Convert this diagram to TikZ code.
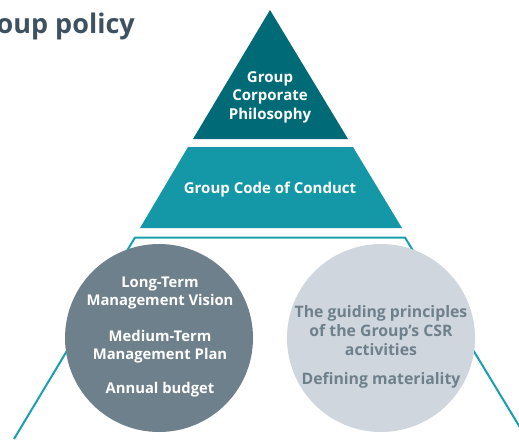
\documentclass[tikz,border=0pt]{standalone}
\usepackage{fontspec}
\setmainfont{Open Sans}
\definecolor{darkteal}{HTML}{006B76}
\definecolor{midteal}{HTML}{1497A7}
\definecolor{lineteal}{HTML}{19A0AD}
\definecolor{slate}{HTML}{6E808B}
\definecolor{pale}{HTML}{D0D6DD}
\definecolor{titlecol}{HTML}{3E5160}
\begin{document}
\begin{tikzpicture}[x=1pt,y=-1pt,
  lbl/.style={font=\bfseries\fontsize{15}{18.5}\selectfont, align=center, inner sep=0pt},
  lbldark/.style={lbl, font=\bfseries\fontsize{14.8}{18}\selectfont},
  lbllight/.style={lbl, font=\bfseries\fontsize{15.8}{19}\selectfont},
  circ/.style={circle, minimum size=188pt, inner sep=0pt}]
\useasboundingbox (0,0) rectangle (519,439);
\begin{scope}
\clip (0,0) rectangle (519,439);
% title
\node[anchor=base east, inner sep=0pt, text=titlecol, font=\bfseries\fontsize{27}{29}\selectfont] (title) at (135,33) {Group policy};
% outline trapezoid
\draw[lineteal, line width=2pt] (14,439) -- (135,237.5) -- (405,237.5) -- (527,439);
% top triangle
\fill[darkteal] (270,10) -- (348,139) -- (193,139) -- cycle;
% code of conduct band
\fill[midteal] (188,147) -- (353,147) -- (402,228) -- (140,228) -- cycle;
% circles
\node[circ, fill=slate] (c1) at (159,338) {};
\node[circ, fill=pale] (c2) at (381,338) {};
\end{scope}
\node[lbl, text=white] (phil) at (270,97) {Group\\Corporate\\Philosophy};
\node[lbl, text=white] (code) at (270,190) {Group Code of Conduct};
\node[lbldark, text=white] (t1) at (160,293) {Long-Term\\Management Vision};
\node[lbldark, text=white] (t2) at (160,347) {Medium-Term\\Management Plan};
\node[lbldark, text=white] (t3) at (160,390) {Annual budget};
\node[lbllight, text=slate] (t4) at (381,331) {The guiding principles\\of the Group’s CSR\\activities};
\node[lbllight, text=slate] (t5) at (381,380) {Defining materiality};
\end{tikzpicture}
\end{document}
